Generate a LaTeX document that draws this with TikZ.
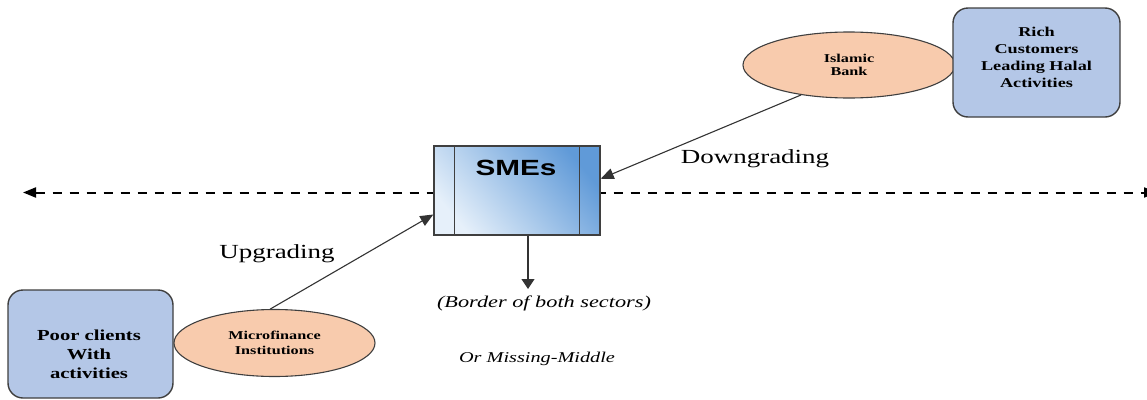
\documentclass[tikz,border=0pt]{standalone}
\usepackage{fontspec}
\setmainfont{Liberation Serif}[FakeStretch=1.35]
\newfontfamily\boxsans{Liberation Sans}[FakeStretch=1.35]
\usetikzlibrary{arrows.meta,shapes.geometric}
\definecolor{peach}{HTML}{F8CBAD}
\definecolor{paleblue}{HTML}{B4C7E7}
\definecolor{edge}{HTML}{3F3F3F}
\definecolor{smedark}{RGB}{96,154,216}
\definecolor{smelight}{RGB}{230,240,250}
\begin{document}
\begin{tikzpicture}[x=1pt,y=-1pt,
  client/.style={draw=edge,line width=1.4pt,fill=paleblue,rounded corners=15pt,inner sep=0pt},
  lender/.style={ellipse,draw=edge,line width=1.1pt,fill=peach,inner sep=0pt,align=center},
  link/.style={draw=black!80,line width=1.1pt,-{Triangle[length=13pt,width=11pt]}},
  caption/.style={anchor=base,inner sep=0pt}]
\useasboundingbox (0,0) rectangle (1147,399);

% sector border line
\coordinate (west) at (23,192.5);
\coordinate (east) at (1157,192.5);
\draw[line width=2pt,dash pattern=on 9pt off 8pt,
  {Triangle[length=13pt,width=10pt]}-{Triangle[length=13pt,width=10pt]}] (west) -- (east);

% rich side
\node[lender,minimum width=212pt,minimum height=66pt,
  font=\bfseries\fontsize{12}{13.5}\selectfont] (ib) at (849,65) {Islamic\\Bank};
\node[client,minimum width=167pt,minimum height=109pt] (rich) at (1036.5,62.5) {};
\node[align=center,inner sep=0pt,font=\bfseries\fontsize{13.5}{17}\selectfont]
  (richtxt) at (1036.5,57.5) {Rich\\Customers\\Leading Halal\\Activities};

% poor side
\node[client,minimum width=165pt,minimum height=108pt] (poor) at (90.5,344) {};
\node[align=center,inner sep=0pt,font=\bfseries\fontsize{15.3}{19}\selectfont]
  (poortxt) at (89,354) {Poor clients\\With\\activities};
\node[lender,minimum width=201pt,minimum height=67pt,
  font=\bfseries\fontsize{12}{14.5}\selectfont] (mfi) at (274.5,343) {Microfinance\\Institutions};

% SMEs in the middle
\node[draw=edge,line width=1.4pt,minimum width=166pt,minimum height=89pt,inner sep=0pt,
  top color=smedark,bottom color=smelight,shading angle=-50] (sme) at (517,190.5) {};
\draw[edge,line width=1.4pt] ([xshift=21pt]sme.north west) -- ([xshift=21pt]sme.south west);
\draw[edge,line width=1.4pt] ([xshift=-21pt]sme.north east) -- ([xshift=-21pt]sme.south east);
\node[caption,font=\boxsans\bfseries\fontsize{22}{26}\selectfont] (smelbl) at (516,175) {SMEs};

% movements
\draw[link] (ib.212) -- (sme.8);
\draw[link] (mfi.97) -- (sme.196);
\coordinate (drop) at (528,289);
\draw[link,-{Triangle[length=10pt,width=13pt]}] ([xshift=11pt]sme.south) -- (drop);

% labels
\node[caption,font=\fontsize{20}{24}\selectfont] (down) at (755,163) {Downgrading};
\node[caption,font=\fontsize{20}{24}\selectfont] (up) at (277,258) {Upgrading};
\node[caption,font=\itshape\fontsize{16.5}{20}\selectfont] (border) at (544,307) {(Border of both sectors)};
\node[caption,font=\itshape\fontsize{15}{18}\selectfont] (mm) at (537,362) {Or Missing-Middle};
\end{tikzpicture}
\end{document}
